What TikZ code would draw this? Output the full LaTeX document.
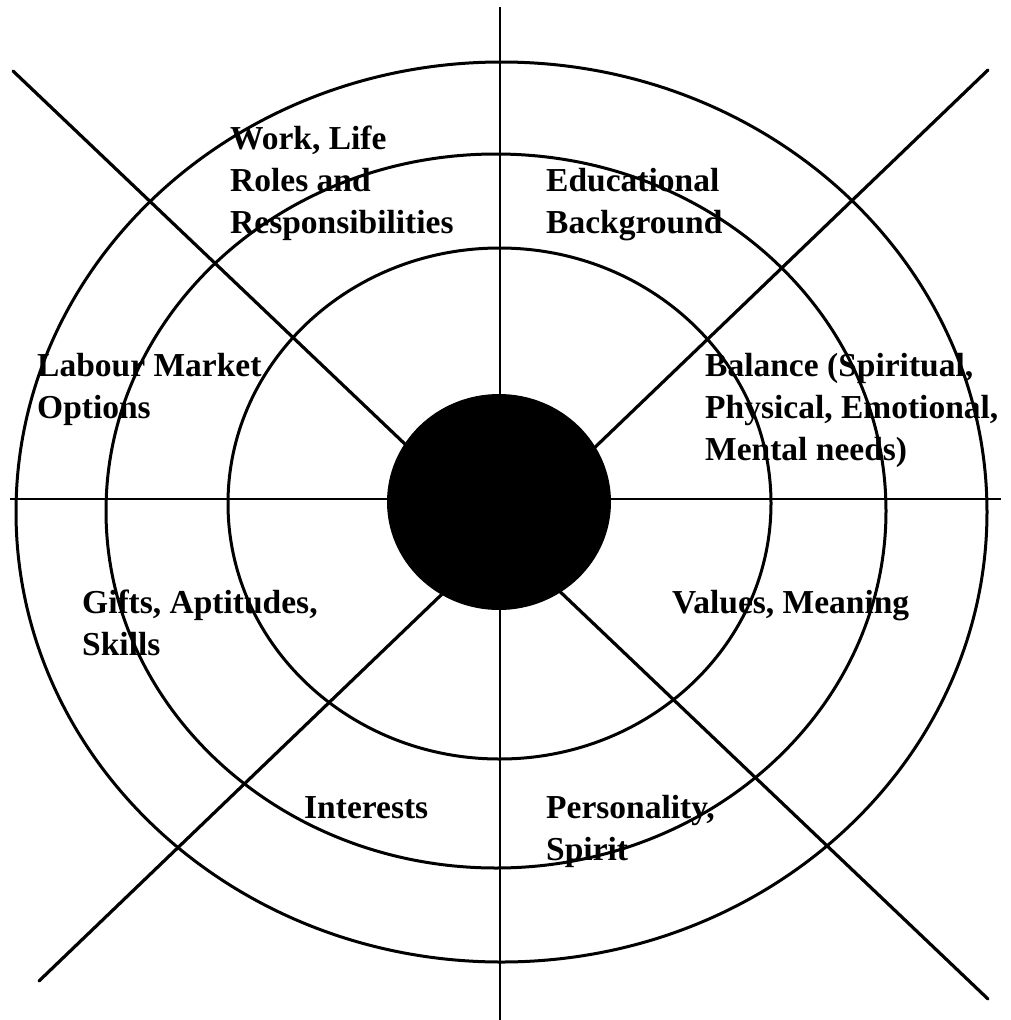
\documentclass[tikz,border=0pt]{standalone}
\usepackage{fontspec}
\newfontfamily\lblfont{Liberation Serif}
\begin{document}
\begin{tikzpicture}[x=1pt,y=-1pt,
  ring/.style={line width=3pt},
  spoke/.style={line width=3.2pt, line cap=round},
  axis/.style={line width=2.6pt},
  lbl/.style={anchor=base west, inner sep=0pt, align=left,
    font=\lblfont\bfseries\fontsize{33.5}{42}\selectfont}]
\useasboundingbox (0,0) rectangle (1011,1020);
% rings
\draw[ring] (501.5,512) ellipse [x radius=485.5pt, y radius=450pt];
\draw[ring] (496,511) ellipse [x radius=390pt, y radius=357pt];
\draw[ring] (499.5,503.5) ellipse [x radius=271.5pt, y radius=255.5pt];
% spokes
\coordinate (tl) at (13,71);
\coordinate (br) at (988,999);
\coordinate (tr) at (988,70);
\coordinate (bl) at (39,981);
\coordinate (vt) at (500,7);
\coordinate (vb) at (500,1020);
\coordinate (hl) at (10,499);
\coordinate (hr) at (1001,499);
\draw[spoke] (tl) -- (br);
\draw[spoke] (tr) -- (bl);
\draw[axis] (vt) -- (vb);
\draw[axis, line width=2pt] (hl) -- (hr);
% core
\fill (499,502) ellipse [x radius=112pt, y radius=108pt];
% labels (anchored at the baseline of their last line)
\node[lbl] (work) at (230,233) {Work, Life\\Roles and\\Responsibilities};
\node[lbl] (edu) at (546,233) {Educational\\Background};
\node[lbl] (labour) at (37,418) {Labour Market\\Options};
\node[lbl] (balance) at (705,460) {Balance (Spiritual,\\Physical, Emotional,\\Mental needs)};
\node[lbl] (gifts) at (82,655) {Gifts, Aptitudes,\\Skills};
\node[lbl] (values) at (672,613) {Values, Meaning};
\node[lbl] (interests) at (304,818) {Interests};
\node[lbl] (person) at (546,860) {Personality,\\Spirit};
\end{tikzpicture}
\end{document}
